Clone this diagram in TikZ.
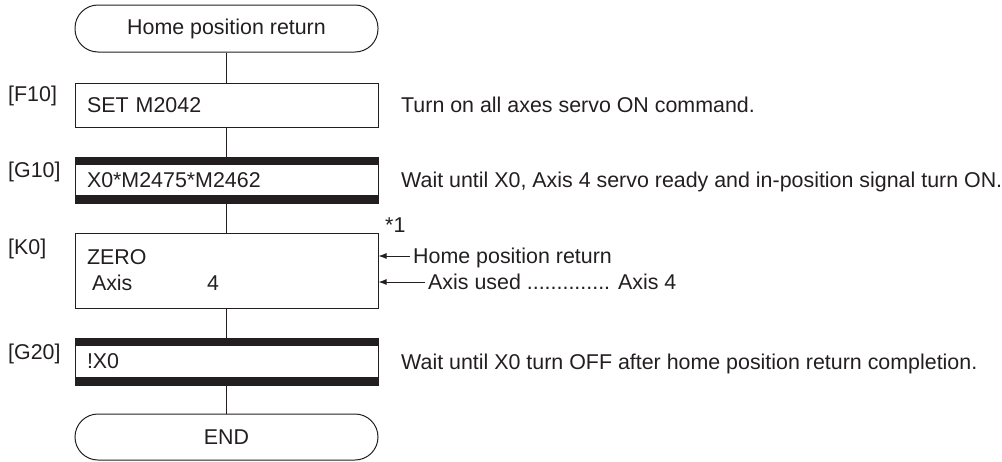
\documentclass[tikz,border=0pt]{standalone}
\usepackage{fontspec}
\setmainfont{Liberation Sans}
\usetikzlibrary{positioning,arrows.meta}
\definecolor{flowink}{HTML}{231F20}

\begin{document}
\begin{tikzpicture}[x=1pt,y=-1pt,font=\fontsize{21.4}{26}\selectfont,
    term/.style={draw=flowink,line width=1pt,rounded corners=23pt,
        minimum width=303pt,minimum height=#1,inner sep=0pt,text=flowink},
    stepbox/.style={draw=flowink,line width=1pt,text width=279pt,inner xsep=12pt,
        inner ysep=0pt,align=left,minimum height=#1,text=flowink},
    gatebox/.style={stepbox=#1,path picture={
        \fill[flowink] (path picture bounding box.north west) rectangle ([yshift=-8pt]path picture bounding box.north east);
        \fill[flowink] (path picture bounding box.south west) rectangle ([yshift=8pt]path picture bounding box.south east);}},
    steplabel/.style={inner sep=0pt,anchor=west,text height=15pt,text depth=0pt,text=flowink},
    note/.style={inner xsep=3pt,inner ysep=0pt,anchor=west,text height=15pt,text depth=0pt,text=flowink},
    flow/.style={draw=flowink,line width=1pt},
    pointer/.style={draw=flowink,line width=1pt,-{Latex[length=8pt,width=6pt]}}]
    \useasboundingbox (0,0) rectangle (1002,461);

    \node[term=47pt]    (start) at (226.5,28.5)  {Home position return};
    \node[stepbox=44pt] (f10)   at (226.5,105)   {SET M2042};
    \node[gatebox=46pt] (g10)   at (226.5,180)   {X0*M2475*M2462};
    \node[stepbox=75pt] (k0)    at (226.5,270.5) {ZERO\\\hspace*{5pt}\makebox[115pt][l]{Axis}4};
    \node[gatebox=47pt] (g20)   at (226.5,361.5) {!X0};
    \node[term=46pt]    (stop)  at (226.5,437)   {END};

    \draw[flow] (start) -- (f10);
    \draw[flow] (f10) -- (g10);
    \draw[flow] (g10) -- (k0);
    \draw[flow] (k0) -- (g20);
    \draw[flow] (g20) -- (stop);

    \node[steplabel] (lf10) at (8,94)  {[F10]};
    \node[steplabel] (lg10) at (8,170) {[G10]};
    \node[steplabel] (lk0)  at (8,247) {[K0]};
    \node[steplabel] (lg20) at (8,352) {[G20]};

    \node[note] (nf10) at (398,105)   {Turn on all axes servo ON command.};
    \node[note] (ng10) at (398,180)   {Wait until X0, Axis 4 servo ready and in-position signal turn ON.};
    \node[note] (nstar) at (382,225)  {*1};
    \node[note] (nhpr) at (410,256)   {Home position return};
    \node[note] (naxis) at (425,282)  {Axis used .............. Axis 4};
    \node[note] (ng20) at (398,361.5) {Wait until X0 turn OFF after home position return completion.};

    \draw[pointer] (nhpr.west) -- (nhpr.west -| k0.east);
    \draw[pointer] (naxis.west) -- (naxis.west -| k0.east);
\end{tikzpicture}
\end{document}
